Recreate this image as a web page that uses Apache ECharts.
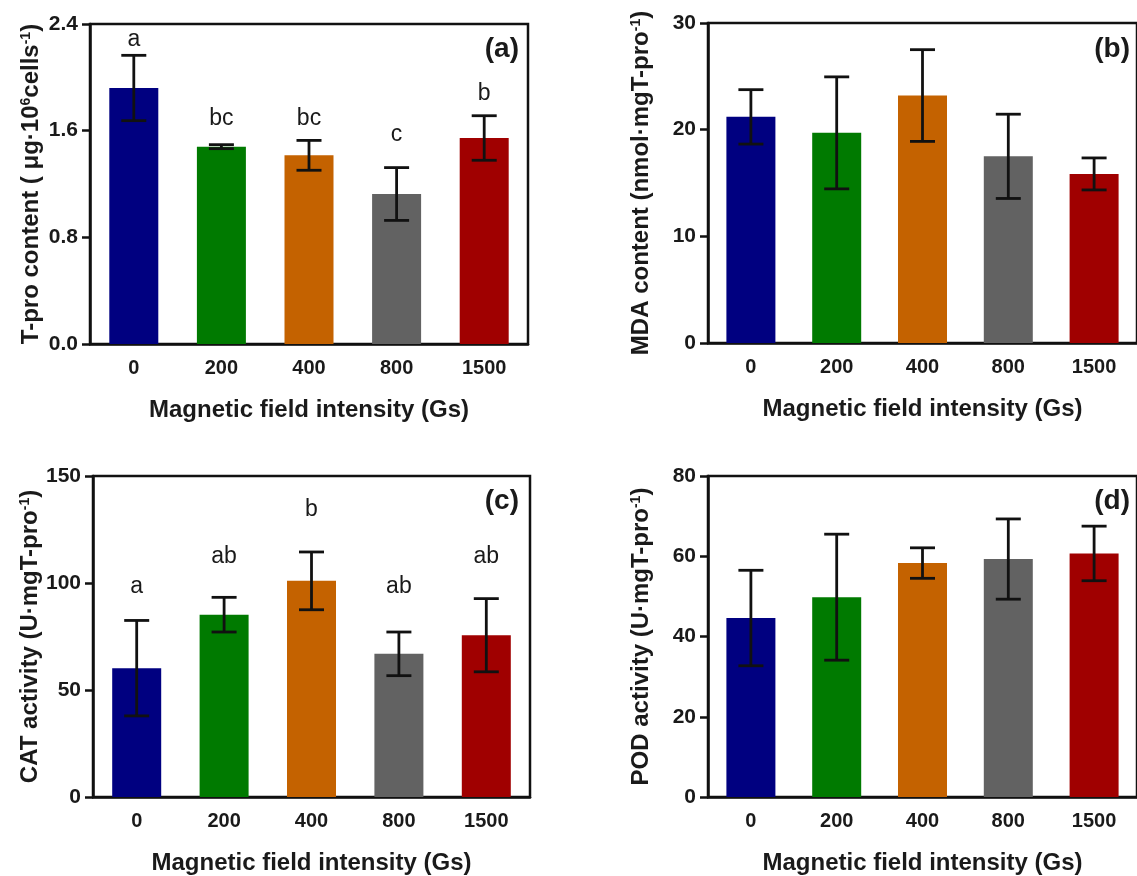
<!DOCTYPE html>
<html>
<head>
<meta charset="utf-8">
<script src="https://cdn.jsdelivr.net/npm/echarts@6/dist/echarts.min.js"></script>
<style>
  html, body { margin: 0; padding: 0; background: #fff; }
  #chart { width: 1137px; height: 876px; }
</style>
</head>
<body>
<div id="chart"></div>
<script>
// categories (magnetic field intensity, Gs)
const categories = ['0', '200', '400', '800', '1500'];
const barColors = ['#000080', '#007a00', '#c46200', '#626262', '#a00000'];

// (a) T-pro content
const tproMean = [1.92, 1.48, 1.415, 1.125, 1.545];
const tproErr = [0.245, 0.015, 0.112, 0.198, 0.167];
const tproLetters = ['a', 'bc', 'bc', 'c', 'b'];
const tproLetterY = [2.28, 1.69, 1.69, 1.57, 1.88];

// (b) MDA content
const mdaMean = [21.2, 19.7, 23.2, 17.5, 15.85];
const mdaErr = [2.55, 5.25, 4.3, 3.95, 1.5];

// (c) CAT activity
const catMean = [60.2, 85.2, 101.0, 66.9, 75.6];
const catErr = [22.3, 8.1, 13.5, 10.2, 17.1];
const catLetters = ['a', 'ab', 'b', 'ab', 'ab'];
const catLetterY = [98.5, 112.3, 134.5, 98.5, 112.3];

// (d) POD activity
const podMean = [44.6, 49.8, 58.3, 59.3, 60.7];
const podErr = [11.9, 15.7, 3.8, 10.0, 6.8];

const FONT = 'Liberation Sans';
const TXT = '#1a1a1a';

const grids = [
    { left: 90, top: 24, width: 438, height: 320, show: true, borderColor: '#111', borderWidth: 2.5 },
    { left: 708, top: 23, width: 432, height: 320, show: true, borderColor: '#111', borderWidth: 2.5 },
    { left: 93, top: 476, width: 437, height: 321, show: true, borderColor: '#111', borderWidth: 2.5 },
    { left: 708, top: 476, width: 432, height: 322, show: true, borderColor: '#111', borderWidth: 2.5 }
];

const makeX = (i) => ({
    type: 'category',
    gridIndex: i,
    data: categories,
    name: 'Magnetic field intensity (Gs)',
    nameLocation: 'middle',
    nameGap: 54,
    nameTextStyle: { fontFamily: FONT, fontWeight: 'bold', fontSize: 24, color: TXT },
    axisLine: { lineStyle: { color: '#111', width: 2.5 } },
    axisTick: { alignWithLabel: true, length: 8, lineStyle: { color: '#111', width: 2.5 } },
    axisLabel: { margin: 14, fontFamily: FONT, fontWeight: 'bold', fontSize: 20, color: TXT },
    splitLine: { show: false }
});

const makeY = (i, name, max, interval, digits, gap) => ({
    type: 'value',
    gridIndex: i,
    min: 0,
    max: max,
    interval: interval,
    name: name,
    nameLocation: 'middle',
    nameRotate: 90,
    nameGap: gap,
    nameTextStyle: {
        fontFamily: FONT, fontWeight: 'bold', fontSize: 24, color: TXT,
        rich: {
            sup: { fontFamily: FONT, fontWeight: 'bold', fontSize: 14, color: TXT, verticalAlign: 'top', lineHeight: 24 }
        }
    },
    axisLine: { show: true, lineStyle: { color: '#111', width: 2.5 } },
    axisTick: { show: true, length: 8, lineStyle: { color: '#111', width: 2.5 } },
    axisLabel: {
        margin: 12, fontFamily: FONT, fontWeight: 'bold', fontSize: 21, color: TXT,
        formatter: (v) => v.toFixed(digits)
    },
    splitLine: { show: false }
});

const barSeries = (i, data) => ({
    type: 'bar',
    xAxisIndex: i,
    yAxisIndex: i,
    barWidth: 49,
    data: data.map((v, k) => ({ value: v, itemStyle: { color: barColors[k] } }))
});

const errSeries = (i, mean, err) => ({
    type: 'custom',
    xAxisIndex: i,
    yAxisIndex: i,
    z: 5,
    data: mean.map((m, k) => [k, m - err[k], m + err[k]]),
    renderItem: (params, api) => {
        const lo = api.coord([api.value(0), api.value(1)]);
        const hi = api.coord([api.value(0), api.value(2)]);
        const w = 12.5;
        const style = { stroke: '#111', lineWidth: 2.8 };
        return {
            type: 'group',
            children: [
                { type: 'line', shape: { x1: lo[0], y1: lo[1], x2: hi[0], y2: hi[1] }, style: style },
                { type: 'line', shape: { x1: lo[0] - w, y1: lo[1], x2: lo[0] + w, y2: lo[1] }, style: style },
                { type: 'line', shape: { x1: hi[0] - w, y1: hi[1], x2: hi[0] + w, y2: hi[1] }, style: style }
            ]
        };
    }
});

const letterSeries = (i, letters, ys) => ({
    type: 'custom',
    xAxisIndex: i,
    yAxisIndex: i,
    z: 6,
    data: ys.map((y, k) => [k, y]),
    renderItem: (params, api) => {
        const p = api.coord([api.value(0), api.value(1)]);
        return {
            type: 'text',
            x: p[0],
            y: p[1],
            style: {
                text: letters[params.dataIndex],
                align: 'center',
                verticalAlign: 'middle',
                fontFamily: FONT,
                fontSize: 23,
                fill: TXT
            }
        };
    }
});

const panelLabel = (text, x, y) => ({
    type: 'text',
    right: 1137 - x,
    top: y,
    style: { text: text, fontFamily: FONT, fontWeight: 'bold', fontSize: 28, fill: TXT }
});

const option = {
    backgroundColor: '#fff',
    animation: false,
    grid: grids,
    xAxis: [makeX(0), makeX(1), makeX(2), makeX(3)],
    yAxis: [
        makeY(0, 'T-pro content ( μg·10{sup|6}cells{sup|-1})', 2.4, 0.8, 1, 47),
        makeY(1, 'MDA content (nmol·mgT-pro{sup|-1})', 30, 10, 0, 55),
        makeY(2, 'CAT activity (U·mgT-pro{sup|-1})', 150, 50, 0, 51),
        makeY(3, 'POD activity (U·mgT-pro{sup|-1})', 80, 20, 0, 55)
    ],
    series: [
        barSeries(0, tproMean), errSeries(0, tproMean, tproErr), letterSeries(0, tproLetters, tproLetterY),
        barSeries(1, mdaMean), errSeries(1, mdaMean, mdaErr),
        barSeries(2, catMean), errSeries(2, catMean, catErr), letterSeries(2, catLetters, catLetterY),
        barSeries(3, podMean), errSeries(3, podMean, podErr)
    ],
    graphic: [
        panelLabel('(a)', 519, 35),
        panelLabel('(b)', 1130, 35),
        panelLabel('(c)', 519, 487),
        panelLabel('(d)', 1130, 487)
    ]
};

const chart = echarts.init(document.getElementById('chart'));
chart.setOption(option);
</script>
</body>
</html>
